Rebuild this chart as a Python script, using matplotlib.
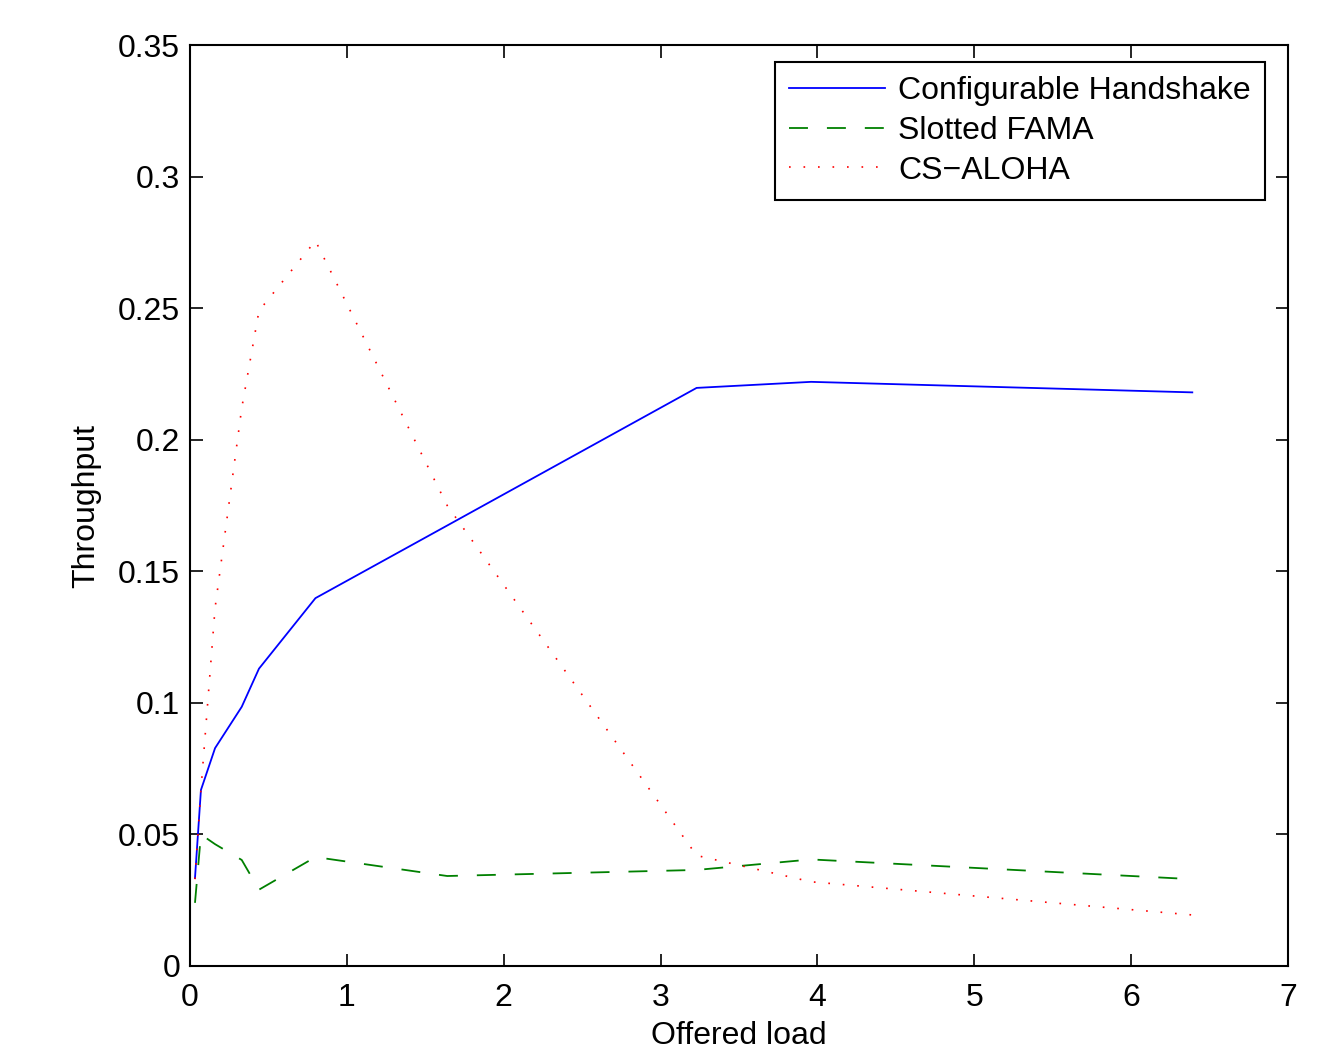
import matplotlib.pyplot as plt

plt.rcParams['font.family'] = ['Liberation Sans', 'DejaVu Sans']

# offered load values (shared by all three curves)
load = [0.032, 0.07, 0.16, 0.33, 0.44, 0.8, 1.64, 3.23, 3.96, 6.39]

handshake = [0.0334, 0.0669, 0.0828, 0.0985, 0.113, 0.1398, 0.1674, 0.2197, 0.222, 0.218]
fama = [0.024, 0.050, 0.0463, 0.0403, 0.029, 0.0414, 0.0342, 0.0365, 0.0405, 0.033]
aloha = [0.033, 0.067, 0.136, 0.212, 0.249, 0.2756, 0.175, 0.042, 0.032, 0.0194]

xticks = [0, 1, 2, 3, 4, 5, 6, 7]
yticks = [0, 0.05, 0.1, 0.15, 0.2, 0.25, 0.3, 0.35]
ytick_labels = ['0', '0.05', '0.1', '0.15', '0.2', '0.25', '0.3', '0.35']

fig = plt.figure(figsize=(13.34, 10.45), dpi=100)
ax = fig.add_axes([0.1424, 0.0756, 0.8231, 0.8813])

ax.plot(load, handshake, color=(0, 0, 1), lw=1.3, label='Configurable Handshake')
ax.plot(load, fama, color=(0, 0.5, 0), lw=1.3, linestyle=(0, (10.5, 10.5)), label='Slotted FAMA')
ax.plot(load, aloha, color=(1, 0, 0), lw=1.2, linestyle=(0, (1, 7.7)), label='CS\u2212ALOHA')

ax.set_xlim(0, 7)
ax.set_ylim(0, 0.35)
ax.set_xticks(xticks)
ax.set_yticks(yticks)
ax.set_yticklabels(ytick_labels)
ax.tick_params(direction='in', length=9, width=1.2, labelsize=23,
               top=True, right=True)
ax.tick_params(axis='x', pad=12)
ax.tick_params(axis='y', pad=7)
for s in ax.spines.values():
    s.set_linewidth(1.5)

ax.set_xlabel('Offered load', fontsize=23, labelpad=6)
ax.set_ylabel('Throughput', fontsize=23, labelpad=12)

leg = ax.legend(loc='upper right', bbox_to_anchor=(0.979, 0.9815), fontsize=23,
                fancybox=False, framealpha=1, edgecolor='black', handlelength=3.0,
                labelspacing=0.3, borderpad=0.45, handletextpad=0.4, borderaxespad=0)
leg.get_frame().set_linewidth(1.5)

fig.savefig('out.png', dpi=100)
